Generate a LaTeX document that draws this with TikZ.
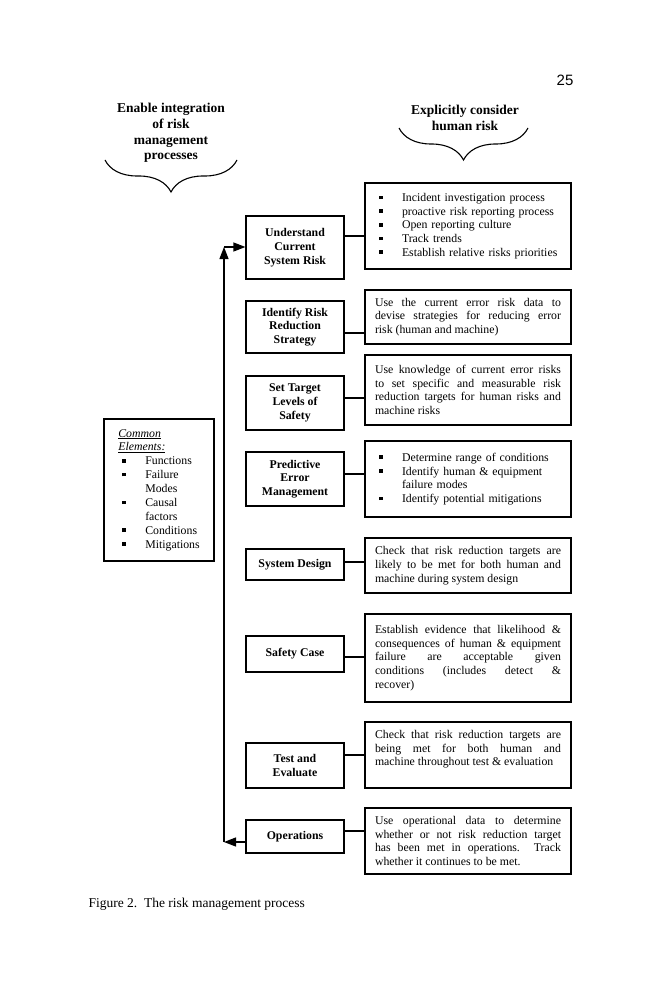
\documentclass[tikz,border=0pt]{standalone}
\usepackage{fontspec}
\setmainfont{Liberation Serif}
\newfontfamily\pagefont{Liberation Sans}
\usetikzlibrary{arrows.meta, calc, decorations.pathreplacing}
\hyphenpenalty=10000
\tikzstyle{stage} = [draw, line width=1.2pt, minimum width=98pt, align=center, inner sep=2pt, font=\fontsize{11.8}{13.7}\selectfont\bfseries]
\tikzstyle{note} = [draw, line width=1.2pt, text width=186pt, inner xsep=10pt, align=justify, font=\fontsize{11.8}{13.7}\selectfont]
\tikzstyle{heading} = [align=center, font=\fontsize{13.5}{15.6}\selectfont\bfseries]
\tikzstyle{link} = [line width=1.2pt]
\tikzstyle{loop} = [line width=1.2pt, -{Triangle[length=12pt, width=9pt]}]
\tikzstyle{bracket} = [line width=1.1pt, decorate, decoration={brace, amplitude=32pt}]
\newcommand{\bul}{\makebox[27pt][l]{\hspace*{4pt}\raisebox{2.3pt}{\rule{3.6pt}{3.6pt}}}}

\begin{document}
\begin{tikzpicture}[x=1pt, y=-1pt]
\useasboundingbox (0,0) rectangle (659,1000);
\node[font=\pagefont\fontsize{15}{18}\selectfont] (page) at (565,80) {25};

% headings with their braces
\node[heading] (enable) at (171,133) {Enable integration\\of risk\\management\\processes};
\node[heading] (human) at (465,118) {Explicitly consider\\human risk};
\draw[bracket] (237,160) -- (105,160);
\draw[bracket] (528,128) -- (399,128);

% process stages
\node[stage, minimum height=63pt] (und) at (295,247.5) {Understand\\Current\\System Risk};
\node[stage, minimum height=52pt] (idr) at (295,327) {Identify Risk\\Reduction\\Strategy};
\node[stage, minimum height=54pt] (set) at (295,403) {Set Target\\Levels of\\Safety};
\node[stage, minimum height=54pt] (pem) at (295,479) {Predictive\\Error\\Management};
\node[stage, minimum height=31pt] (sys) at (295,564.5) {System Design};
\node[stage, minimum height=36pt] (saf) at (295,654) {Safety Case};
\node[stage, minimum height=45pt] (tev) at (295,765.5) {Test and\\Evaluate};
\node[stage, minimum height=33pt] (ops) at (295,836.5) {Operations};

% what each stage does
\node[note, align=left, minimum height=86pt] (n1) at (468,226) {\bul Incident investigation process\\\bul proactive risk reporting process\\\bul Open reporting culture\\\bul Track trends\\\bul Establish relative risks priorities};
\node[note, minimum height=54pt] (n2) at (468,317) {Use the current error risk data to\linebreak devise strategies for reducing error\linebreak risk (human and machine)};
\node[note, minimum height=70pt] (n3) at (468,390) {Use knowledge of current error risks\linebreak to set specific and measurable risk\linebreak reduction targets for human risks and\linebreak machine risks};
\node[note, align=left, minimum height=76pt] (n4) at (468,479) {\bul Determine range of conditions\\\bul Identify human \& equipment\\\hspace*{27pt}failure modes\\\bul Identify potential mitigations};
\node[note, minimum height=55pt] (n5) at (468,565.5) {Check that risk reduction targets are\linebreak likely to be met for both human and\linebreak machine during system design};
\node[note, minimum height=88pt] (n6) at (468,658) {Establish evidence that likelihood \&\linebreak consequences of human \& equipment\linebreak failure are acceptable given\linebreak conditions (includes detect \&\linebreak recover)};
\node[note, minimum height=66pt] (n7) at (468,755) {Check that risk reduction targets are\linebreak being met for both human and\linebreak machine throughout test \& evaluation\par\mbox{}};
\node[note, minimum height=66pt] (n8) at (468,841) {Use operational data to determine\linebreak whether or not risk reduction target\linebreak has been met in operations.\ \ Track\linebreak whether it continues to be met.};

% common elements
\node[draw, line width=1.2pt, align=left, minimum width=110pt, minimum height=142pt, font=\fontsize{11.8}{13.9}\selectfont] (common) at (159,490) {\underline{\textit{Common}}\\\underline{\textit{Elements:}}\\\bul Functions\\\bul Failure\\\hspace*{27pt}Modes\\\bul Causal\\\hspace*{27pt}factors\\\bul Conditions\\\bul Mitigations};

\foreach \a/\b/\y in {und/n1/236, idr/n2/333, set/n3/398, pem/n4/474, sys/n5/562, saf/n6/657, tev/n7/755, ops/n8/831}
  \draw[link] (\a.east |- 0,\y) -- (\b.west |- 0,\y);

% feedback loop
\coordinate (bot) at (224,842);
\coordinate (top) at (224,247);
\draw[loop] (ops.west |- bot) -- (bot);
\draw[loop] (bot) -- (top);
\draw[loop] (top) -- (und.west |- top);

\node[anchor=base west, font=\fontsize{13.5}{16}\selectfont] (caption) at (85,907) {Figure 2.\ \ The risk management process};
\end{tikzpicture}
\end{document}
